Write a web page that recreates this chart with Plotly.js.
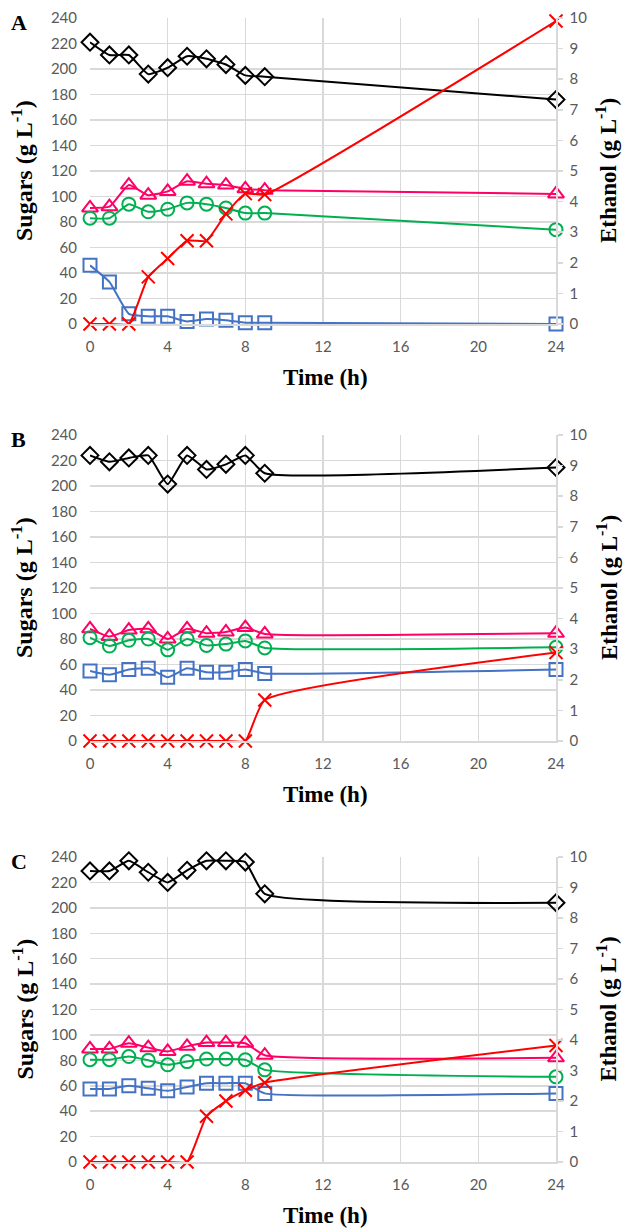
<!DOCTYPE html>
<html><head><meta charset="utf-8">
<script src="https://cdn.plot.ly/plotly-3.0.1.min.js"></script>
<style>html,body{margin:0;padding:0;background:#fff}#chart{width:625px;height:1228px}</style>
</head><body><div id="chart"></div>
<script>
// Time points (h)
const time = [0, 1, 2, 3, 4, 5, 6, 7, 8, 9, 24];
const xTicks = [0, 4, 8, 12, 16, 20, 24];
const panelLabels = ["A", "B", "C"];

// Panel A (sugars g/L, ethanol g/L)
const A_diamond  = [221, 211, 211, 196, 201, 210, 208, 203.5, 195, 194, 176];
const A_triangle = [91, 92, 109, 101, 104, 112, 110, 109, 106, 105, 102];
const A_circle   = [83, 83, 94, 88, 90, 95, 94, 91, 87, 87, 74];
const A_square   = [46, 33, 8, 6, 6, 2, 4, 3, 1, 1, 0];
const A_ethanol  = [0, 0, 0, 1.54, 2.14, 2.72, 2.72, 3.6, 4.26, 4.23, 9.9];

// Panel B
const B_diamond  = [224, 219, 222, 224, 201.5, 224, 213, 217, 224, 210, 214.5];
const B_triangle = [88, 82, 87, 88, 80, 88, 84.5, 85.5, 89, 84, 84.5];
const B_circle   = [81, 74.5, 79, 80, 71.5, 80, 75, 76, 78.5, 73, 73.5];
const B_square   = [55, 52, 56, 57, 50, 57, 54, 54, 56, 53, 56];
const B_ethanol  = [0, 0, 0, 0, 0, 0, 0, 0, 0, 1.34, 2.89];

// Panel C
const C_diamond  = [229, 229, 237, 228, 220, 229.5, 237, 237, 236, 211, 204];
const C_triangle = [89, 89, 93.5, 90, 87, 91, 94, 94, 93.5, 84, 82];
const C_circle   = [80.5, 80.5, 83, 80, 76.5, 79, 81, 81, 80.5, 72.5, 67];
const C_square   = [57.5, 57.5, 60, 58, 56, 59, 62, 62, 62, 54, 54];
const C_ethanol  = [0, 0, 0, 0, 0, 0, 1.5, 2.0, 2.35, 2.6, 3.82];

const sugarTicks = [0,20,40,60,80,100,120,140,160,180,200,220,240];
const ethTicks = [0,1,2,3,4,5,6,7,8,9,10];

const panels = [
  {d: A_diamond, t: A_triangle, c: A_circle, s: A_square, e: A_ethanol, top: 18, bot: 324},
  {d: B_diamond, t: B_triangle, c: B_circle, s: B_square, e: B_ethanol, top: 435, bot: 741},
  {d: C_diamond, t: C_triangle, c: C_circle, s: C_square, e: C_ethanol, top: 857, bot: 1162}
];

const W = 625, H = 1228;
const xL = 90, xR = 556;
const colors = {d: "#000000", t: "#FF0066", c: "#00B050", s: "#4472C4", e: "#FF0000"};
const symbols = {d: "diamond-open", t: "triangle-up-open", c: "circle-open", s: "square-open", e: "x-thin-open"};
const sizes = {d: 13, t: 14, c: 13, s: 13, e: 13};

const traces = [];
const layout = {
  width: W, height: H, margin: {l:0, r:0, t:0, b:0},
  paper_bgcolor: "#fff", plot_bgcolor: "#fff", showlegend: false,
  font: {family: "Lato, 'Open Sans', sans-serif", color: "#595959", size: 15},
  annotations: []
};
const serif = "'Liberation Serif', 'Times New Roman', serif";

panels.forEach((p, i) => {
  const n = i + 1;
  const xa = "x" + (n === 1 ? "" : n);
  const ya = "y" + (2*n - 1 === 1 ? "" : (2*n - 1));
  const y2 = "y" + (2*n);
  ["d","t","c","s"].forEach(k => {
    traces.push({
      x: time, y: p[k], xaxis: xa, yaxis: ya, type: "scatter", mode: "lines+markers",
      line: {color: colors[k], width: 2, shape: "spline", smoothing: 0.45},
      marker: {symbol: symbols[k], size: sizes[k], color: colors[k], line: {color: colors[k], width: 2}},
      cliponaxis: false
    });
  });
  traces.push({
    x: time, y: p.e, xaxis: xa, yaxis: y2, type: "scatter", mode: "lines+markers",
    line: {color: colors.e, width: 2, shape: "spline", smoothing: 0.45},
    marker: {symbol: symbols.e, size: sizes.e, color: colors.e, line: {color: colors.e, width: 2}},
    cliponaxis: false
  });
  const dom = [1 - p.bot / H, 1 - p.top / H];
  const xname = "xaxis" + (n === 1 ? "" : n);
  const yname = "yaxis" + (2*n - 1 === 1 ? "" : (2*n - 1));
  const y2name = "yaxis" + (2*n);
  layout[xname] = {
    domain: [xL / W, xR / W], anchor: ya, range: [0, 24], tickvals: xTicks,
    showgrid: true, gridcolor: "#D9D9D9", gridwidth: 1.5, zeroline: false,
    showline: true, linecolor: "#D9D9D9", linewidth: 1.5, ticks: "", ticklabelstandoff: 8,
    tickfont: {size: 15, color: "#595959"}, fixedrange: true
  };
  layout[yname] = {
    domain: dom, anchor: xa, range: [0, 240], tickvals: sugarTicks,
    showgrid: true, gridcolor: "#D9D9D9", gridwidth: 1.5, zeroline: false,
    showline: false, ticks: "", ticklabelstandoff: 12,
    tickfont: {size: 15, color: "#595959"}, fixedrange: true
  };
  layout[y2name] = {
    domain: dom, anchor: xa, overlaying: ya, side: "right", range: [0, 10], tickvals: ethTicks,
    showgrid: false, zeroline: false, showline: true, linecolor: "#D9D9D9", linewidth: 1.5,
    ticks: "outside", ticklen: 5, tickcolor: "#D9D9D9", tickwidth: 1.5, ticklabelstandoff: 4,
    tickfont: {size: 15, color: "#595959"}, fixedrange: true
  };
  const mid = (p.top + p.bot) / 2;
  layout.annotations.push(
    {text: "<b>" + panelLabels[i] + "</b>", xref: "paper", yref: "paper", x: 9 / W, y: 1 - (p.top + 4) / H,
     xanchor: "left", yanchor: "middle", showarrow: false, font: {family: serif, size: 22, color: "#000"}},
    {text: "<b>Sugars (g L<sup>-1</sup>)</b>", xref: "paper", yref: "paper", x: 22 / W, y: 1 - mid / H,
     xanchor: "center", yanchor: "middle", textangle: -90, showarrow: false, font: {family: serif, size: 24, color: "#000"}},
    {text: "<b>Ethanol (g L<sup>-1</sup>)</b>", xref: "paper", yref: "paper", x: 607 / W, y: 1 - mid / H,
     xanchor: "center", yanchor: "middle", textangle: -90, showarrow: false, font: {family: serif, size: 23, color: "#000"}},
    {text: "<b>Time (h)</b>", xref: "paper", yref: "paper", x: 326 / W, y: 1 - (p.bot + 53) / H,
     xanchor: "center", yanchor: "middle", showarrow: false, font: {family: serif, size: 23, color: "#000"}}
  );
});

Plotly.newPlot("chart", traces, layout, {displayModeBar: false, staticPlot: true});
</script>
</body></html>
